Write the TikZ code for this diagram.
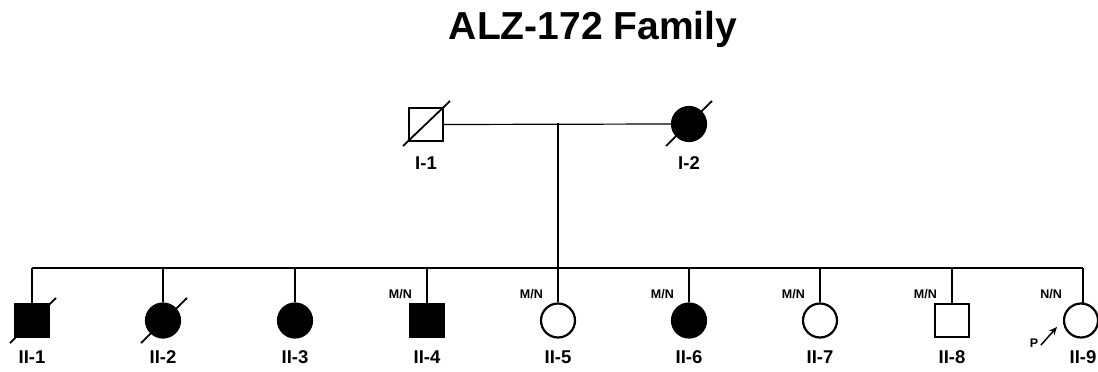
\documentclass[tikz,border=0pt]{standalone}
\usepackage{fontspec}
\setmainfont{Liberation Sans}
\usetikzlibrary{arrows.meta}
\begin{document}
\begin{tikzpicture}[x=1pt,y=-1pt,
  line/.style={line width=1.2pt},
  male/.style={draw, line width=2.2pt, minimum width=34pt, minimum height=33pt, inner sep=0pt, rectangle},
  female/.style={draw, line width=2.2pt, minimum size=34pt, inner sep=0pt, circle},
  aff/.style={fill=black},
  unaff/.style={fill=white},
  idlab/.style={font=\bfseries\fontsize{18.5}{20}\selectfont, inner sep=0pt},
  gtlab/.style={font=\bfseries\fontsize{12.5}{13}\selectfont, inner sep=0pt, anchor=east},
  dec/.style={line width=1.8pt}]
\useasboundingbox (0,0) rectangle (1098,372);
\node[font=\bfseries\fontsize{39}{44}\selectfont, inner sep=0pt, anchor=base] (title) at (593,39) {ALZ-172 Family};
% generation I
\node[male, unaff] (I1) at (426,124.5) {};
\node[female, aff] (I2) at (689,124) {};
\coordinate (mid) at (558,123);
\draw[line] (I1.east) -- (I2.west);
\coordinate (sibtop) at (558,268);
\draw[line] (mid) -- (sibtop);
\draw[dec] (403,146) -- (450,101);
\draw[dec] (666,146) -- (712,101);
\node[idlab, anchor=base] (lI1) at (426,169) {I-1};
\node[idlab, anchor=base] (lI2) at (689,169) {I-2};
% sibship line
\coordinate (sl) at (32,268);
\coordinate (sr) at (1083,268);
\draw[line] (sl) -- (sr);
% generation II
\node[male, aff] (II1) at (32,320.5) {};
\node[female, aff] (II2) at (163,320.5) {};
\node[female, aff] (II3) at (295,320.5) {};
\node[male, aff] (II4) at (427,320.5) {};
\node[female, unaff] (II5) at (558,320.5) {};
\node[female, aff] (II6) at (689,320.5) {};
\node[female, unaff] (II7) at (820,320.5) {};
\node[male, unaff] (II8) at (952,320.5) {};
\node[female, unaff] (II9) at (1081,320.5) {};
\foreach \n/\x/\t in {II1/32/II-1,II2/163/II-2,II3/295/II-3,II4/427/II-4,II5/558/II-5,II6/689/II-6,II7/820/II-7,II8/952/II-8}{
  \coordinate (t\n) at (\x,268);
  \draw[line] (t\n) -- (\n.north);
  \node[idlab, anchor=base] (l\n) at (\x,363) {\t};
}
\coordinate (tII9) at (1083,268);
\draw[line] (tII9) -- (1083,303.6) coordinate (bII9);
\node[idlab, anchor=base] (lII9) at (1083,363) {II-9};
\draw[dec] (10,343) -- (56,298);
\draw[dec] (141,343) -- (187,298);
% genotypes
\node[gtlab, anchor=base east] (gII4) at (412,298) {M/N};
\node[gtlab, anchor=base east] (gII5) at (543,298) {M/N};
\node[gtlab, anchor=base east] (gII6) at (674,298) {M/N};
\node[gtlab, anchor=base east] (gII7) at (805,298) {M/N};
\node[gtlab, anchor=base east] (gII8) at (937,298) {M/N};
\node[gtlab, anchor=base east] (gII9) at (1062,298) {N/N};
% proband
\node[font=\bfseries\fontsize{12.5}{13}\selectfont, inner sep=0pt, anchor=base] (P) at (1034,347) {P};
\coordinate (pa) at (1041,345);
\coordinate (pb) at (1057,327);
\draw[line width=1.5pt, -{Stealth[length=8pt,width=7pt]}] (pa) -- (pb);
\end{tikzpicture}
\end{document}
